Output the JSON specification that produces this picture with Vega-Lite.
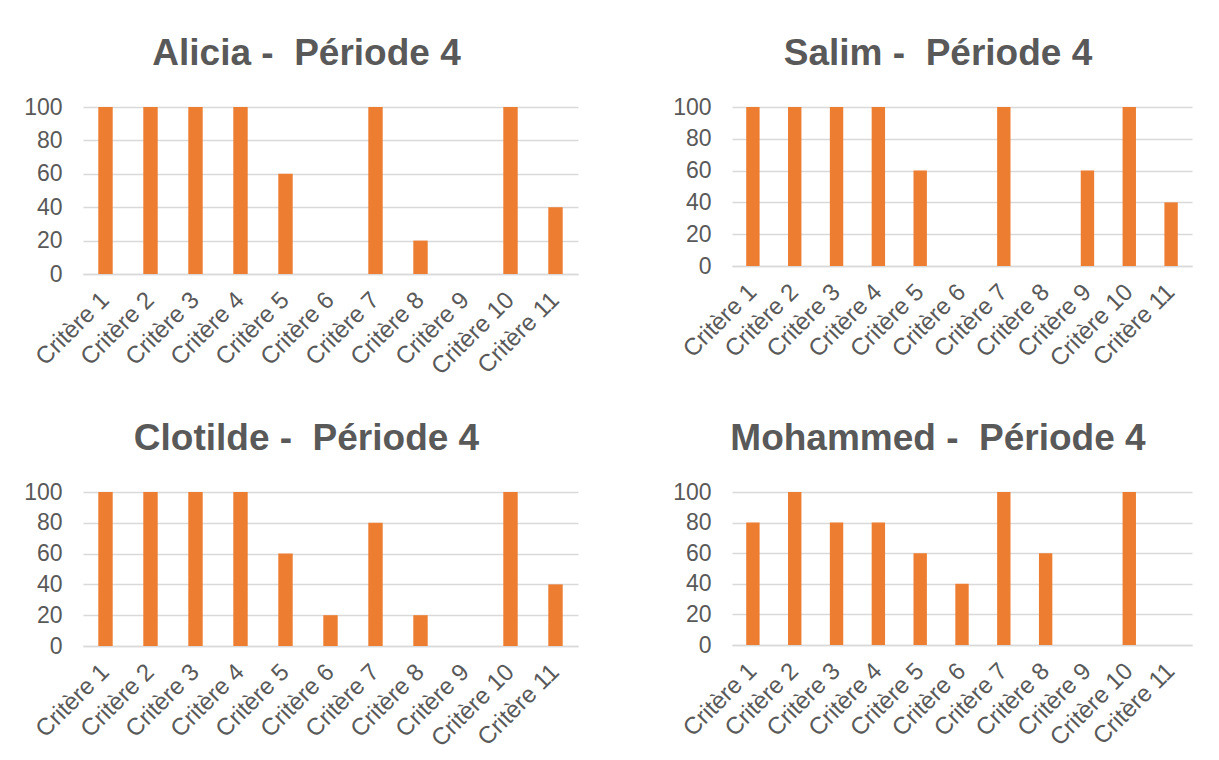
{
  "$schema": "https://vega.github.io/schema/vega-lite/v6.json",
  "background": "white",
  "padding": {"left": 23, "top": 35, "right": 5, "bottom": 5},
  "bounds": "flush",
  "spacing": {"row": 218, "column": 154},
  "columns": 2,
  "config": {
    "font": "Liberation Sans",
    "view": {"stroke": null},
    "title": {"font": "Liberation Sans", "fontSize": 37, "fontWeight": "bold", "color": "#595959", "anchor": "middle", "dx": -24, "offset": 23},
    "axis": {"labelFont": "Liberation Sans", "labelColor": "#595959", "ticks": false, "title": null, "gridColor": "#d9d9d9", "gridWidth": 1.5, "domainColor": "#d9d9d9", "domainWidth": 1.5},
    "axisY": {"labelFontSize": 23, "labelPadding": 21, "domain": false, "grid": true, "values": [0, 20, 40, 60, 80, 100]},
    "axisX": {"labelFontSize": 24, "labelAngle": -45, "labelBaseline": "middle", "labelAlign": "right", "labelPadding": 22, "grid": false}
  },
  "data": {"values": [
    {"eleve": "Alicia", "critere": "Critère 1", "score": 100},
    {"eleve": "Alicia", "critere": "Critère 2", "score": 100},
    {"eleve": "Alicia", "critere": "Critère 3", "score": 100},
    {"eleve": "Alicia", "critere": "Critère 4", "score": 100},
    {"eleve": "Alicia", "critere": "Critère 5", "score": 60},
    {"eleve": "Alicia", "critere": "Critère 6", "score": 0},
    {"eleve": "Alicia", "critere": "Critère 7", "score": 100},
    {"eleve": "Alicia", "critere": "Critère 8", "score": 20},
    {"eleve": "Alicia", "critere": "Critère 9", "score": 0},
    {"eleve": "Alicia", "critere": "Critère 10", "score": 100},
    {"eleve": "Alicia", "critere": "Critère 11", "score": 40},
    {"eleve": "Salim", "critere": "Critère 1", "score": 100},
    {"eleve": "Salim", "critere": "Critère 2", "score": 100},
    {"eleve": "Salim", "critere": "Critère 3", "score": 100},
    {"eleve": "Salim", "critere": "Critère 4", "score": 100},
    {"eleve": "Salim", "critere": "Critère 5", "score": 60},
    {"eleve": "Salim", "critere": "Critère 6", "score": 0},
    {"eleve": "Salim", "critere": "Critère 7", "score": 100},
    {"eleve": "Salim", "critere": "Critère 8", "score": 0},
    {"eleve": "Salim", "critere": "Critère 9", "score": 60},
    {"eleve": "Salim", "critere": "Critère 10", "score": 100},
    {"eleve": "Salim", "critere": "Critère 11", "score": 40},
    {"eleve": "Clotilde", "critere": "Critère 1", "score": 100},
    {"eleve": "Clotilde", "critere": "Critère 2", "score": 100},
    {"eleve": "Clotilde", "critere": "Critère 3", "score": 100},
    {"eleve": "Clotilde", "critere": "Critère 4", "score": 100},
    {"eleve": "Clotilde", "critere": "Critère 5", "score": 60},
    {"eleve": "Clotilde", "critere": "Critère 6", "score": 20},
    {"eleve": "Clotilde", "critere": "Critère 7", "score": 80},
    {"eleve": "Clotilde", "critere": "Critère 8", "score": 20},
    {"eleve": "Clotilde", "critere": "Critère 9", "score": 0},
    {"eleve": "Clotilde", "critere": "Critère 10", "score": 100},
    {"eleve": "Clotilde", "critere": "Critère 11", "score": 40},
    {"eleve": "Mohammed", "critere": "Critère 1", "score": 80},
    {"eleve": "Mohammed", "critere": "Critère 2", "score": 100},
    {"eleve": "Mohammed", "critere": "Critère 3", "score": 80},
    {"eleve": "Mohammed", "critere": "Critère 4", "score": 80},
    {"eleve": "Mohammed", "critere": "Critère 5", "score": 60},
    {"eleve": "Mohammed", "critere": "Critère 6", "score": 40},
    {"eleve": "Mohammed", "critere": "Critère 7", "score": 100},
    {"eleve": "Mohammed", "critere": "Critère 8", "score": 60},
    {"eleve": "Mohammed", "critere": "Critère 9", "score": 0},
    {"eleve": "Mohammed", "critere": "Critère 10", "score": 100},
    {"eleve": "Mohammed", "critere": "Critère 11", "score": 0}
  ]},
  "concat": [
    {
      "title": "Alicia - \u00a0Période 4",
      "width": 495, "height": 167,
      "transform": [{"filter": "datum.eleve === 'Alicia'"}],
      "mark": {"type": "bar", "color": "#ED7D31"},
      "encoding": {
        "x": {"field": "critere", "type": "nominal", "sort": null, "scale": {"paddingInner": 0.68, "paddingOuter": 0.34}},
        "y": {"field": "score", "type": "quantitative", "scale": {"domain": [0, 100]}}
      }
    },
    {
      "title": "Salim - \u00a0Période 4",
      "width": 460, "height": 159,
      "transform": [{"filter": "datum.eleve === 'Salim'"}],
      "mark": {"type": "bar", "color": "#ED7D31"},
      "encoding": {
        "x": {"field": "critere", "type": "nominal", "sort": null, "scale": {"paddingInner": 0.68, "paddingOuter": 0.34}},
        "y": {"field": "score", "type": "quantitative", "scale": {"domain": [0, 100]}}
      }
    },
    {
      "title": "Clotilde - \u00a0Période 4",
      "width": 495, "height": 154,
      "transform": [{"filter": "datum.eleve === 'Clotilde'"}],
      "mark": {"type": "bar", "color": "#ED7D31"},
      "encoding": {
        "x": {"field": "critere", "type": "nominal", "sort": null, "scale": {"paddingInner": 0.68, "paddingOuter": 0.34}},
        "y": {"field": "score", "type": "quantitative", "scale": {"domain": [0, 100]}}
      }
    },
    {
      "title": "Mohammed - \u00a0Période 4",
      "width": 460, "height": 153,
      "transform": [{"filter": "datum.eleve === 'Mohammed'"}],
      "mark": {"type": "bar", "color": "#ED7D31"},
      "encoding": {
        "x": {"field": "critere", "type": "nominal", "sort": null, "scale": {"paddingInner": 0.68, "paddingOuter": 0.34}},
        "y": {"field": "score", "type": "quantitative", "scale": {"domain": [0, 100]}}
      }
    }
  ]
}
